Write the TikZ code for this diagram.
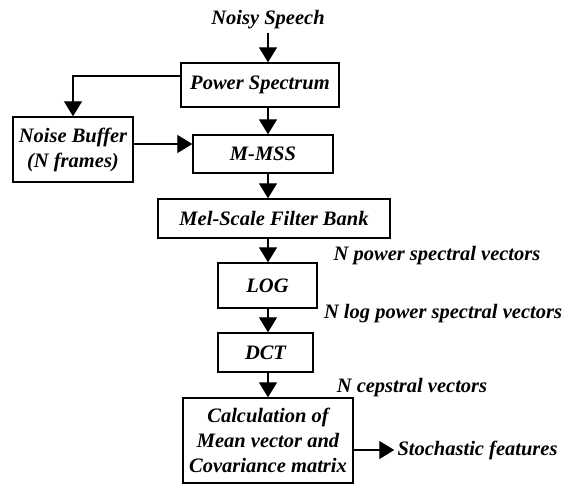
\documentclass[tikz,border=0pt]{standalone}
\usepackage{fontspec}
\setmainfont{Liberation Serif}
\usetikzlibrary{arrows.meta}

\tikzset{
	blk/.style={draw, line width=1.4pt, inner sep=0pt, align=center},
	arr/.style={line width=1.3pt, -{Triangle[length=15pt,width=18pt]}},
	lbl/.style={inner sep=3pt}
}

\begin{document}
\begin{tikzpicture}[x=1pt, y=-1pt, font=\fontsize{20.5}{25}\selectfont\bfseries\itshape]
		\useasboundingbox (0,0) rectangle (577,493);

		\node[lbl] (ns) at (268,20) {Noisy Speech};
		\node[blk, minimum width=158pt, minimum height=44pt] (ps) at (260,85) {Power Spectrum};
		\node[blk, minimum width=120pt, minimum height=65pt] (nb) at (73,149.5) {Noise Buffer\\(N frames)};
		\node[blk, minimum width=140pt, minimum height=38pt] (mmss) at (263,154) {M-MSS};
		\node[blk, minimum width=232pt, minimum height=39pt] (mel) at (274,218.5) {Mel-Scale Filter Bank};
		\node[blk, minimum width=99pt, minimum height=45pt] (log) at (267.5,285.5) {LOG};
		\node[blk, minimum width=95pt, minimum height=39pt] (dct) at (265.5,352.5) {DCT};
		\node[blk, minimum width=170pt, minimum height=85pt] (calc) at (268,440.5) {Calculation of\\Mean vector and\\Covariance matrix};

		\node[lbl] (npow) at (437,256) {N power spectral vectors};
		\node[lbl] (nlog) at (443,314) {N log power spectral vectors};
		\node[lbl] (ncep) at (412,388) {N cepstral vectors};
		\node[lbl] (stoch) at (477.5,450) {Stochastic features};

		\draw[arr] (ns.south) -- (ps.north -| ns);
		\draw[arr] ([yshift=9pt]ps.west) -| (nb.north);
		\draw[arr] (ps.south -| ns) -- (mmss.north -| ns);
		\draw[arr] ([yshift=5.5pt]nb.east) -- ([yshift=5.5pt]nb.east -| mmss.west);
		\draw[arr] (mmss.south -| ns) -- (mel.north -| ns);
		\draw[arr] (mel.south -| ns) -- (log.north -| ns);
		\draw[arr] (log.south -| ns) -- (dct.north -| ns);
		\draw[arr] (dct.south -| ns) -- (calc.north -| ns);
		\draw[arr] (calc.east |- stoch) -- (stoch.west);

\end{tikzpicture}
\end{document}
